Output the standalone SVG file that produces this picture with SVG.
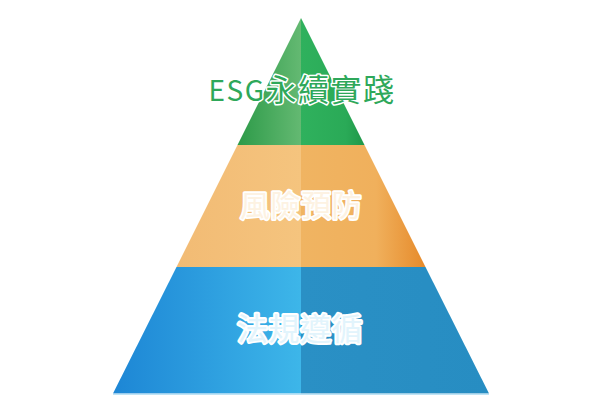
<svg xmlns="http://www.w3.org/2000/svg" width="600" height="400" viewBox="0 0 600 400">
  <style>
    .lbl { font-family: "Noto Sans CJK TC", "Noto Sans CJK SC", sans-serif; font-weight: 400; text-anchor: middle; paint-order: stroke; stroke-linejoin: round; }
    .top { fill: #2ea85a; stroke: #ffffff; stroke-width: 3; font-size: 31px; letter-spacing: 1.5px; }
    .mid { fill: #fdf2e2; stroke: #ffffff; stroke-width: 3.5; font-size: 30px; letter-spacing: 0.5px; }
    .bot { fill: #e2f4fc; stroke: #ffffff; stroke-width: 4; font-size: 31px; letter-spacing: 0.5px; }
  </style>
  <defs>
    <linearGradient id="gL" gradientUnits="userSpaceOnUse" x1="237" y1="0" x2="301" y2="0">
      <stop offset="0" stop-color="#2c9a48"/>
      <stop offset="1" stop-color="#64b972"/>
    </linearGradient>
    <linearGradient id="gR" gradientUnits="userSpaceOnUse" x1="301" y1="0" x2="365" y2="0">
      <stop offset="0" stop-color="#2fb15d"/>
      <stop offset="0.7" stop-color="#2aaa57"/>
      <stop offset="1" stop-color="#1f9648"/>
    </linearGradient>
    <linearGradient id="oL" gradientUnits="userSpaceOnUse" x1="176" y1="0" x2="301" y2="0">
      <stop offset="0" stop-color="#f2bb74"/>
      <stop offset="1" stop-color="#f5c47e"/>
    </linearGradient>
    <linearGradient id="oR" gradientUnits="userSpaceOnUse" x1="301" y1="0" x2="426" y2="0">
      <stop offset="0" stop-color="#f0b462"/>
      <stop offset="0.6" stop-color="#f0b05c"/>
      <stop offset="1" stop-color="#e68a2a"/>
    </linearGradient>
    <linearGradient id="bL" gradientUnits="userSpaceOnUse" x1="113" y1="0" x2="301" y2="0">
      <stop offset="0" stop-color="#1d86d5"/>
      <stop offset="1" stop-color="#3db6e9"/>
    </linearGradient>
    <linearGradient id="bR" gradientUnits="userSpaceOnUse" x1="301" y1="0" x2="489" y2="0">
      <stop offset="0" stop-color="#2a90c5"/>
      <stop offset="1" stop-color="#278dc2"/>
    </linearGradient>
  </defs>
  <rect width="600" height="400" fill="#ffffff"/>

  <g id="tier-esg">
    <polygon points="301,18 237.5,145 301,145" fill="url(#gL)"/>
    <polygon points="301,18 364.5,145 301,145" fill="url(#gR)"/>
    <text class="lbl top" x="302" y="101"><tspan font-size="28px">ESG</tspan>永續實踐</text>
  </g>

  <g id="tier-risk">
    <polygon points="237.5,145 301,145 301,267 176.5,267" fill="url(#oL)"/>
    <polygon points="301,145 364.5,145 425.5,267 301,267" fill="url(#oR)"/>
    <text class="lbl mid" x="301" y="216">風險預防</text>
  </g>

  <g id="tier-compliance">
    <polygon points="176.5,267 301,267 301,393.5 113,393.5" fill="url(#bL)"/>
    <polygon points="301,267 425.5,267 489,393.5 301,393.5" fill="url(#bR)"/>
    <line x1="113" y1="394.3" x2="489" y2="394.3" stroke="#bfe4f5" stroke-width="1.2"/>
    <text class="lbl bot" x="300" y="340">法規遵循</text>
  </g>

  <g id="connectors"/>
</svg>
